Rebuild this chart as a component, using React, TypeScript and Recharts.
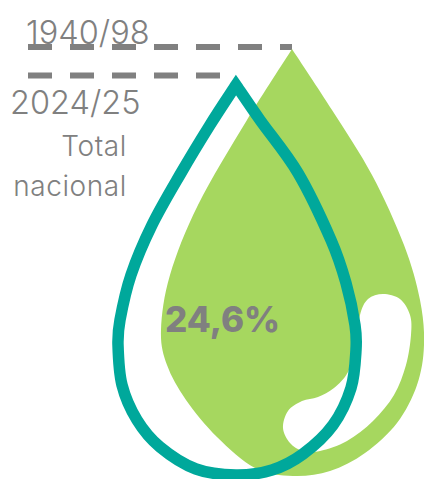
import React from "react";
import { ScatterChart, Scatter, XAxis, YAxis, ReferenceLine, ReferenceDot, Label, Curve } from "recharts";

const pastDrop = [
  { x: 292, y: 49 }, { x: 332, y: 110 }, { x: 372, y: 175 }, { x: 404, y: 245 }, { x: 420, y: 300 },
  { x: 424, y: 345 }, { x: 417, y: 385 }, { x: 397, y: 423 }, { x: 365, y: 453 }, { x: 330, y: 471 },
  { x: 293, y: 476 }, { x: 255, y: 468 }, { x: 217, y: 437 }, { x: 186, y: 400 }, { x: 167, y: 365 },
  { x: 161, y: 330 }, { x: 170, y: 275 }, { x: 198, y: 205 }, { x: 247, y: 120 },
];
const swoosh = [
  { x: 383, y: 294 }, { x: 400, y: 299 }, { x: 410, y: 315 }, { x: 411, y: 335 }, { x: 406, y: 365 },
  { x: 394, y: 395 }, { x: 373, y: 421 }, { x: 347, y: 441 }, { x: 320, y: 451 }, { x: 303, y: 451 },
  { x: 290, y: 443 }, { x: 283, y: 428 }, { x: 288, y: 411 }, { x: 302, y: 401 }, { x: 318, y: 397 },
  { x: 334, y: 388 }, { x: 348, y: 372 }, { x: 356, y: 345 }, { x: 360, y: 315 }, { x: 368, y: 299 },
];
const currentDrop = [
  { x: 236, y: 85 }, { x: 260, y: 120 }, { x: 298, y: 173 }, { x: 331, y: 240 }, { x: 346, y: 283 },
  { x: 355, y: 325 }, { x: 356, y: 350 }, { x: 351, y: 388 }, { x: 333, y: 425 }, { x: 303, y: 454 },
  { x: 272, y: 470 }, { x: 236, y: 475 }, { x: 196, y: 469 }, { x: 160, y: 447 }, { x: 137, y: 420 },
  { x: 122, y: 385 }, { x: 118, y: 345 }, { x: 120, y: 320 }, { x: 131, y: 275 }, { x: 152, y: 225 },
  { x: 181, y: 173 }, { x: 210, y: 125 },
];
const periodLabels = ["1940/98", "2024/25"];
const regionLines = ["Total", "nacional"];
const valueLabel = "24,6%";

const GREEN = "#a6d75f";
const TEAL = "#00a89b";
const GREY = "#808080";
const FONT = "Inter, sans-serif";

const closedSpline = (cusp: boolean) => (ctx: any) => {
  let pts: [number, number][] = [];
  return {
    areaStart() {},
    areaEnd() {},
    lineStart() { pts = []; },
    point(x: number, y: number) { pts.push([+x, +y]); },
    lineEnd() {
      const n = pts.length;
      if (!n) return;
      ctx.moveTo(pts[0][0], pts[0][1]);
      for (let i = 0; i < n; i++) {
        const p1 = pts[i];
        const p2 = pts[(i + 1) % n];
        const p0 = cusp && i === 0 ? p1 : pts[(i - 1 + n) % n];
        const p3 = cusp && i === n - 1 ? p2 : pts[(i + 2) % n];
        ctx.bezierCurveTo(
          p1[0] + (p2[0] - p0[0]) / 6,
          p1[1] + (p2[1] - p0[1]) / 6,
          p2[0] - (p3[0] - p1[0]) / 6,
          p2[1] - (p3[1] - p1[1]) / 6,
          p2[0],
          p2[1],
        );
      }
      ctx.closePath();
    },
  };
};
const noDot = () => <g />;

const outline = (cusp: boolean, fill: string, stroke: string, strokeWidth: number) => (p: any) => (
  <Curve points={p.points} type={closedSpline(cusp) as any} fill={fill} stroke={stroke} strokeWidth={strokeWidth} strokeLinejoin="miter" />
);

const textMark = (value: string, anchor: string, size: number, weight: number, spacing = 0) => (p: any) => (
  <text x={p.viewBox.x + p.viewBox.width / 2} y={p.viewBox.y + p.viewBox.height / 2} textAnchor={anchor as any} fontFamily={FONT} fontSize={size} fontWeight={weight} letterSpacing={spacing} fill={GREY}>
    {value}
  </text>
);

export default function App() {
  return (
    <div style={{ position: "absolute", left: 0, top: 0 }}>
      <ScatterChart width={424} height={479} margin={{ top: 0, right: 0, bottom: 0, left: 0 }}>
        <XAxis type="number" dataKey="x" domain={[0, 424]} hide />
        <YAxis type="number" dataKey="y" domain={[0, 479]} reversed hide />
        <Scatter data={pastDrop} isAnimationActive={false} shape={noDot} line={outline(true, GREEN, "none", 0)} />
        <Scatter data={swoosh} isAnimationActive={false} shape={noDot} line={outline(false, "#ffffff", "none", 0)} />
        <Scatter data={currentDrop} isAnimationActive={false} shape={noDot} line={outline(true, "none", TEAL, 11.5)} />
        <ReferenceLine segment={[{ x: 28, y: 47 }, { x: 292, y: 47 }]} stroke={GREY} strokeWidth={6} strokeDasharray="24 18" />
        <ReferenceLine segment={[{ x: 28, y: 75.5 }, { x: 221, y: 75.5 }]} stroke={GREY} strokeWidth={6} strokeDasharray="24 18" />
        <ReferenceDot x={26} y={44} r={0} fill="none" stroke="none"><Label content={textMark(periodLabels[0], "start", 32.5, 300)} /></ReferenceDot>
        <ReferenceDot x={10} y={114} r={0} fill="none" stroke="none"><Label content={textMark(periodLabels[1], "start", 32.5, 300)} /></ReferenceDot>
        <ReferenceDot x={127} y={156} r={0} fill="none" stroke="none"><Label content={textMark(regionLines[0], "end", 28, 300, 0.6)} /></ReferenceDot>
        <ReferenceDot x={127} y={196} r={0} fill="none" stroke="none"><Label content={textMark(regionLines[1], "end", 28, 300, 0.6)} /></ReferenceDot>
        <ReferenceDot x={165} y={332} r={0} fill="none" stroke="none"><Label content={textMark(valueLabel, "start", 35, 800)} /></ReferenceDot>
      </ScatterChart>
    </div>
  );
}
